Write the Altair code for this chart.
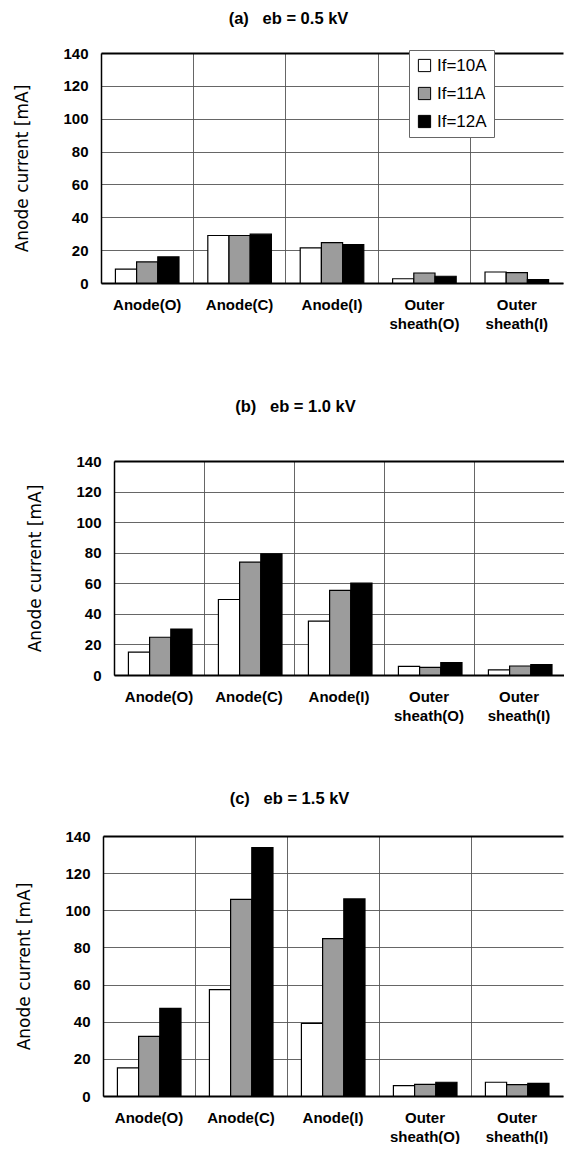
import altair as alt
import pandas as pd

categories = ["Anode(O)", "Anode(C)", "Anode(I)", "Outer sheath(O)", "Outer sheath(I)"]
series = ["If=10A", "If=11A", "If=12A"]
fills = ["#ffffff", "#9c9c9c", "#000000"]
y_ticks = [0, 20, 40, 60, 80, 100, 120, 140]

a_10 = [8.5, 28.9, 21.4, 2.6, 6.7]
a_11 = [12.8, 28.9, 24.6, 6.1, 6.3]
a_12 = [15.9, 29.7, 23.4, 4.1, 2.0]

b_10 = [14.9, 49.4, 35.2, 5.7, 3.3]
b_11 = [24.7, 73.8, 55.3, 5.0, 5.9]
b_12 = [30.1, 79.3, 60.1, 8.1, 6.8]

c_10 = [15.1, 57.3, 39.1, 5.6, 7.4]
c_11 = [32.1, 105.9, 84.7, 6.3, 6.1]
c_12 = [47.2, 133.7, 106.1, 7.4, 6.8]

NB = "\u00a0"
titles = [
    "(a)" + NB * 3 + "eb = 0.5 kV",
    "(b)" + NB * 3 + "eb = 1.0 kV",
    "(c)" + NB * 3 + "eb = 1.5 kV",
]

FONT = "Liberation Sans"
WFONT = "DejaVu Sans"


def make_df(v10, v11, v12):
    rows = []
    for s, vals in zip(series, [v10, v11, v12]):
        for c, v in zip(categories, vals):
            rows.append({"category": c, "series": s, "value": v})
    return pd.DataFrame(rows)


def panel(df, title, shift, plot_w, height, lx, ly, toff, tpad):
    width = shift + plot_w
    bars = alt.Chart(df).mark_bar(stroke="black", strokeWidth=1.2).encode(
        x=alt.X(
            "category:N",
            sort=categories,
            scale=alt.Scale(paddingInner=0, paddingOuter=0, range=[shift, width]),
            axis=alt.Axis(
                title=None,
                labelAngle=0,
                labelExpr="split(datum.label, ' ')",
                labelFont=FONT,
                labelFontSize=15,
                labelFontWeight="bold",
                labelColor="black",
                labelPadding=14,
                labelLineHeight=19,
                labelOverlap=False,
                ticks=False,
                grid=True,
                bandPosition=0,
                gridColor="#555555",
                gridWidth=0.9,
                domainColor="black",
                domainWidth=2,
            ),
        ),
        xOffset=alt.XOffset(
            "series:N",
            sort=series,
            scale=alt.Scale(paddingOuter=0.68, paddingInner=0),
        ),
        y=alt.Y(
            "value:Q",
            scale=alt.Scale(domain=[0, 140], nice=False),
            axis=alt.Axis(
                values=y_ticks,
                tickCount=8,
                offset=-shift,
                title="Anode current [mA]",
                titleFont=WFONT,
                titleFontSize=17,
                titleFontWeight="normal",
                titleColor="black",
                titlePadding=tpad,
                labelFont=FONT,
                labelFontSize=15,
                labelFontWeight="bold",
                labelColor="black",
                labelPadding=13,
                labelOverlap=False,
                ticks=False,
                gridColor={
                    "condition": {"test": "datum.value === 140", "value": "black"},
                    "value": "#555555",
                },
                gridWidth={
                    "condition": {"test": "datum.value === 140", "value": 2},
                    "value": 0.9,
                },
                domainColor="black",
                domainWidth=1.5,
            ),
        ),
        color=alt.Color(
            "series:N",
            sort=series,
            scale=alt.Scale(domain=series, range=fills),
            legend=alt.Legend(
                title=None,
                orient="none",
                legendX=lx,
                legendY=ly,
                symbolType="square",
                symbolSize=150,
                symbolStrokeColor="black",
                symbolStrokeWidth=1,
                labelFont=FONT,
                labelFontSize=17,
                labelColor="black",
                fillColor="white",
                strokeColor="#666666",
                padding=7,
                rowPadding=10,
                labelOffset=4,
            ),
        ),
    )
    return bars.properties(
        width=width,
        height=height,
        title=alt.TitleParams(
            title,
            font=FONT,
            fontSize=16.5,
            fontWeight="bold",
            color="black",
            anchor="middle",
            frame="bounds",
            offset=toff,
        ),
    )


pa = panel(make_df(a_10, a_11, a_12), titles[0], 0, 462, 230, 308, -3, 19, 31)
pb = panel(make_df(b_10, b_11, b_12), titles[1], 13, 450, 214, 300, -20, 39, 31)
pc = panel(make_df(c_10, c_11, c_12), titles[2], 2, 460, 260, 300, 3, 22, 31)

chart = alt.concat(pa, pb, pc, columns=1, spacing=67).configure_view(
    strokeWidth=0
).properties(padding={"left": 13, "top": 10, "right": 0, "bottom": 0})

chart.save("out.html", embed_options={"renderer": "svg", "actions": False})
